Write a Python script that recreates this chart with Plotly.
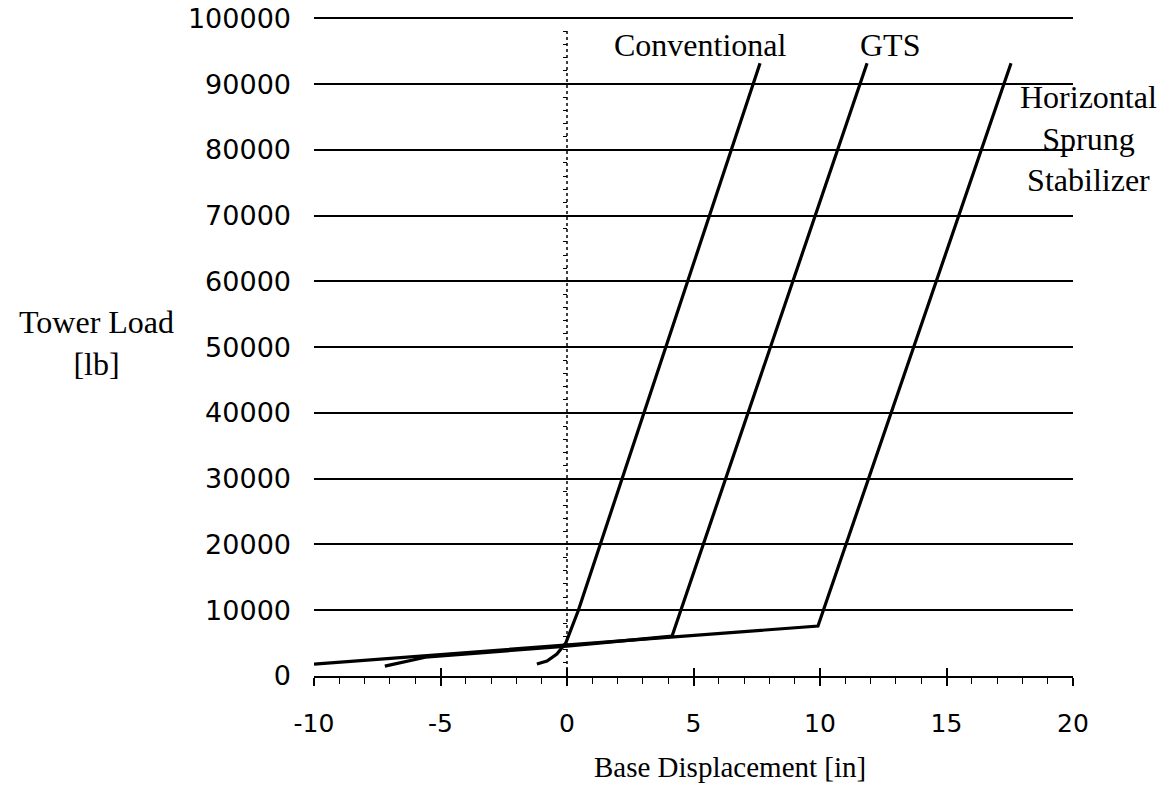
import plotly.graph_objects as go

# ---- data ----
conv_x = [-1.19, -0.79, -0.40, -0.20, -0.05, 0.45, 7.63]
conv_y = [1830, 2280, 3350, 4300, 5000, 10000, 93150]

gts_x = [-7.2, -5.6, 0.0, 4.15, 11.86]
gts_y = [1500, 2850, 4550, 6050, 93150]

hss_x = [-10.0, 9.92, 17.55]
hss_y = [1800, 7600, 93150]

y_ticks = [0, 10000, 20000, 30000, 40000, 50000, 60000, 70000, 80000, 90000, 100000]
x_ticks = [-10, -5, 0, 5, 10, 15, 20]
zero_axis_ticks = list(range(0, 98001, 2000))

SERIF = "Liberation Serif, Times New Roman, serif"
SANS = "DejaVu Sans, Arial, sans-serif"
Y_RANGE = [0, 100500]

fig = go.Figure()
for xs, ys in [(hss_x, hss_y), (gts_x, gts_y), (conv_x, conv_y)]:
    fig.add_trace(go.Scatter(x=xs, y=ys, mode="lines",
                             line=dict(color="black", width=3.2),
                             showlegend=False, hoverinfo="skip"))
# helper (invisible) traces so the secondary axes are drawn
fig.add_trace(go.Scatter(x=[0], y=[0], mode="markers", marker=dict(opacity=0),
                         yaxis="y2", showlegend=False, hoverinfo="skip"))
fig.add_trace(go.Scatter(x=[0], y=[0], mode="markers", marker=dict(opacity=0),
                         xaxis="x2", showlegend=False, hoverinfo="skip"))

fig.update_layout(
    width=1174, height=792,
    margin=dict(l=314, r=101, t=15, b=116, autoexpand=False),
    paper_bgcolor="white", plot_bgcolor="white",
    xaxis=dict(range=[-10, 20], tickvals=x_ticks, ticktext=[str(v) for v in x_ticks],
               showgrid=False, zeroline=False, showline=True, automargin=False,
               linecolor="black", linewidth=2,
               ticks="outside", ticklen=8, tickwidth=1.5, tickcolor="black",
               minor=dict(dtick=1, ticks="outside", ticklen=6, tickwidth=1.2, tickcolor="black"),
               tickfont=dict(family=SANS, size=25, color="black"),
               ticklabelstandoff=16),
    xaxis2=dict(overlaying="x", anchor="y", range=[-10, 20], tickvals=x_ticks,
                showticklabels=False, showgrid=False, zeroline=False, showline=False,
                automargin=False,
                ticks="inside", ticklen=8, tickwidth=1.5, tickcolor="black"),
    yaxis=dict(range=Y_RANGE, tickvals=y_ticks, ticktext=[str(v) for v in y_ticks],
               showgrid=True, gridcolor="black", gridwidth=2, automargin=False,
               zeroline=False, showline=False, ticks="",
               tickfont=dict(family=SANS, size=27, color="black"),
               ticklabelstandoff=22),
    yaxis2=dict(overlaying="y", anchor="free", position=1/3, side="left",
                range=Y_RANGE, tickvals=zero_axis_ticks, automargin=False,
                showticklabels=False, showgrid=False, zeroline=False, showline=False,
                ticks="outside", ticklen=4, tickwidth=1.2, tickcolor="black"),
    shapes=[dict(type="line", xref="x", yref="y", x0=0, x1=0, y0=0, y1=98500,
                 line=dict(color="black", width=1.5, dash="dot"))],
    annotations=[
        dict(text="Conventional", x=5.26, y=96000, xref="x", yref="y", showarrow=False,
             xanchor="center", yanchor="middle",
             font=dict(family=SERIF, size=32, color="black")),
        dict(text="GTS", x=12.77, y=96000, xref="x", yref="y", showarrow=False,
             xanchor="center", yanchor="middle",
             font=dict(family=SERIF, size=32, color="black")),
        dict(text="Horizontal<br>Sprung<br>Stabilizer", x=1.021, y=81700,
             xref="paper", yref="y", showarrow=False, align="center",
             xanchor="center", yanchor="middle",
             font=dict(family=SERIF, size=32, color="black")),
        dict(text="Tower Load<br>[lb]", x=-0.287, y=50700, xref="paper", yref="y",
             showarrow=False, align="center", xanchor="center", yanchor="middle",
             font=dict(family=SERIF, size=32, color="black")),
        dict(text="Base Displacement [in]", x=6.44, y=-0.138, xref="x", yref="paper",
             showarrow=False, xanchor="center", yanchor="middle",
             font=dict(family=SERIF, size=29, color="black")),
    ],
)

fig.write_html("out.html", config={"displayModeBar": False},
               post_script="document.body.style.margin='0';")
